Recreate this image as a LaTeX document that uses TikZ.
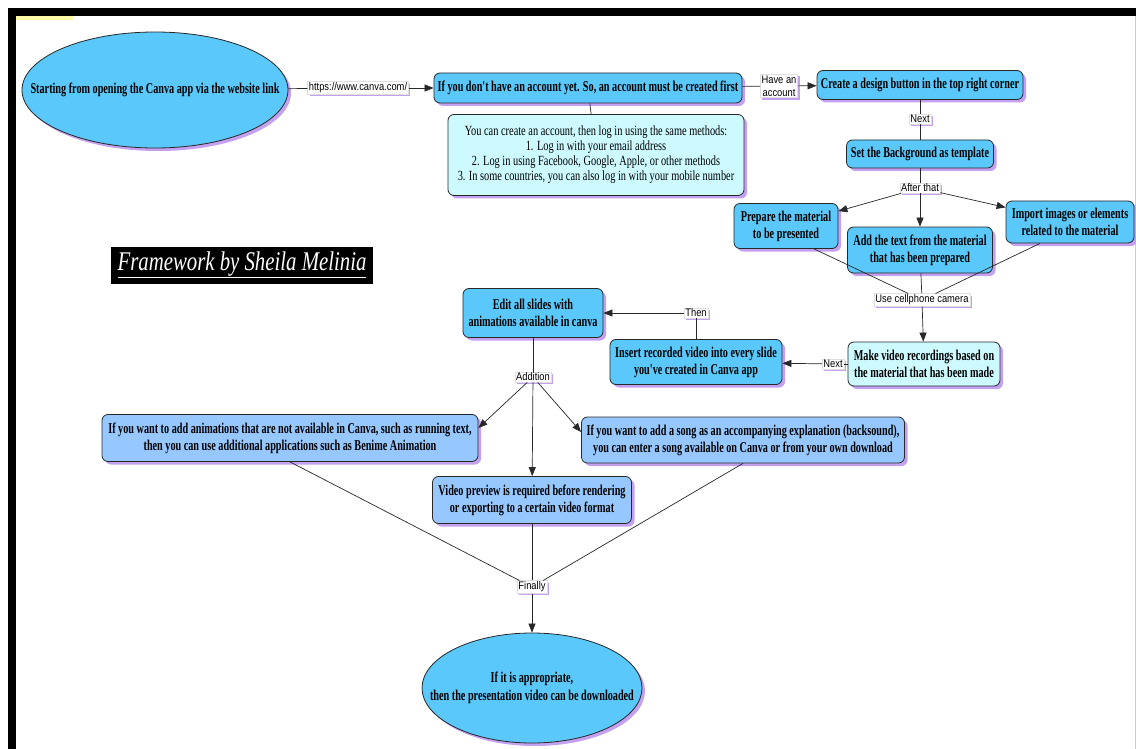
\documentclass[tikz,border=0pt]{standalone}
\usepackage{fontspec}
\setmainfont{Liberation Serif}
\newfontfamily\bxf[FakeStretch=0.68]{Liberation Serif}
\newfontfamily\infofnt[FakeStretch=0.74]{Liberation Serif}
\newfontfamily\ttlf[FakeStretch=0.77]{Liberation Serif}
\newfontfamily\lbf[FakeStretch=0.85]{Liberation Sans}
\usetikzlibrary{shapes.geometric,shadows,arrows.meta}
\definecolor{mainblue}{RGB}{90,200,250}
\definecolor{lcyan}{RGB}{205,250,255}
\definecolor{periw}{RGB}{150,200,255}
\definecolor{shadowc}{RGB}{195,160,240}
\definecolor{edgec}{RGB}{40,40,40}
\tikzset{
  sh/.style={drop shadow={shadow xshift=3pt,shadow yshift=-3pt,fill=shadowc,opacity=1}},
  box/.style={draw=edgec, line width=0.8pt, rounded corners=6pt, fill=mainblue, sh,
    align=center, inner sep=2pt, font=\bxf\bfseries\fontsize{15}{17}\selectfont},
  info/.style={box, fill=lcyan, font=\infofnt\fontsize{14}{15}\selectfont},
  lowbox/.style={box, fill=periw},
  ell/.style={ellipse, draw=edgec, line width=0.8pt, fill=mainblue, sh, inner sep=0pt},
  elltxt/.style={align=center, inner sep=0pt, font=\bxf\bfseries\fontsize{15}{18}\selectfont},
  lbl/.style={fill=white, draw=gray!25, line width=0.4pt, inner sep=1.2pt, align=center,
    font=\lbf\fontsize{11}{13}\selectfont,
    drop shadow={shadow xshift=2pt,shadow yshift=-2pt,fill=shadowc,opacity=1}},
  ln/.style={draw=edgec, line width=0.7pt},
  arr/.style={ln, -{Triangle[length=9pt,width=7pt]}},
}
\begin{document}
\begin{tikzpicture}[x=1pt,y=-1pt]
\useasboundingbox (0,0) rectangle (1136,749);
\fill[white] (0,0) rectangle (1136,749);
% frame
\fill[black] (8,8) rectangle (1136,16);
\fill[black] (8,8) rectangle (16,749);
\draw[gray!40, line width=1pt] (1135,16) -- (1135,749);
\fill[yellow!35] (16,16) rectangle (73,20);

% nodes
\node[ell, minimum width=266pt, minimum height=116pt,
  label={[elltxt]center:Starting from opening the Canva app via the website link}] (start) at (155,90) {};
\node[lbl] (url) at (358,88) {https://www.canva.com/};
\node[box, minimum width=308pt, minimum height=30pt] (A) at (588,88)
  {If you don't have an account yet. So, an account must be created first};
\node[info, minimum width=296pt, minimum height=81pt] (B) at (596,155)
  {You can create an account, then log in using the same methods:\\
   1. Log in with your email address\\
   2. Log in using Facebook, Google, Apple, or other methods\\
   3. In some countries, you can also log in with your mobile number};
\node[lbl] (have) at (779,86) {Have an\\account};
\node[box, minimum width=206pt, minimum height=29pt] (C) at (920,85)
  {Create a design button in the top right corner};
\node[lbl] (next1) at (920,119) {Next};
\node[box, minimum width=147pt, minimum height=28pt] (D) at (920,154)
  {Set the Background as template};
\node[lbl] (after) at (920,188) {After that};
\node[box, minimum width=104pt, minimum height=45pt] (E) at (786,226)
  {Prepare the material\\to be presented};
\node[box, minimum width=145pt, minimum height=46pt] (F) at (920,250)
  {Add the text from the material\\that has been prepared};
\node[box, minimum width=128pt, minimum height=42pt] (G) at (1070,222)
  {Import images or elements\\related to the material};
\node[lbl] (cam) at (922,300) {Use cellphone camera};
\node[box, fill=lcyan, minimum width=152pt, minimum height=44pt] (H) at (924,364)
  {Make video recordings based on\\the material that has been made};
\node[lbl] (next2) at (833,364) {Next};
\node[box, minimum width=172pt, minimum height=45pt] (I) at (696,362)
  {Insert recorded video into every slide\\you've created in Canva app};
\node[lbl] (then) at (696,313) {Then};
\node[box, minimum width=140pt, minimum height=49pt] (Ed) at (533,313)
  {Edit all slides with\\animations available in canva};
\node[lbl] (add) at (533,377) {Addition};
\node[lowbox, minimum width=376pt, minimum height=47pt] (J) at (290,438)
  {If you want to add animations that are not available in Canva, such as running text,\\
   then you can use additional applications such as Benime Animation};
\node[lowbox, minimum width=199pt, minimum height=47pt] (K) at (532,500)
  {Video preview is required before rendering\\or exporting to a certain video format};
\node[lowbox, minimum width=323pt, minimum height=46pt] (L) at (743,440)
  {If you want to add a song as an accompanying explanation (backsound),\\
   you can enter a song available on Canva or from your own download};
\node[lbl] (fin) at (532,587) {Finally};
\node[ell, minimum width=220pt, minimum height=110pt,
  label={[elltxt]center:{If it is appropriate,\\then the presentation video can be downloaded}}] (M) at (532,688) {};
\node[fill=black, text=white, minimum width=262pt, minimum height=37pt, inner sep=0pt,
  font=\ttlf\itshape\fontsize{27}{30}\selectfont] (title) at (242,265)
  {\underline{Framework by Sheila Melinia}};

% connectors
\draw[ln] (start) -- (url);
\draw[arr] (url) -- (A);
\draw[ln] (A) -- (B);
\draw[ln] (A) -- (have);
\draw[arr] (have) -- (C);
\draw[ln] (C) -- (next1);
\draw[ln] (next1) -- (D);
\draw[ln] (D) -- (after);
\draw[arr] (after) -- (E);
\draw[arr] (after) -- (F);
\draw[arr] (after) -- (G);
\draw[ln] ([xshift=28pt]E.south) -- (cam);
\draw[ln] (F) -- (cam);
\draw[ln] ([xshift=-30pt]G.south) -- (cam);
\draw[arr] (cam) -- (H);
\draw[ln] (H) -- (next2);
\draw[arr] (next2) -- (I);
\draw[ln] (I) -- (then);
\draw[arr] (then) -- (Ed);
\draw[ln] (Ed) -- (add);
\draw[arr] (add) -- ([yshift=10pt]J.east);
\draw[arr] (add) -- (K);
\draw[arr] (add) -- ([yshift=8pt]L.west);
\draw[ln] (J.south) -- (fin);
\draw[ln] (K) -- (fin);
\draw[ln] (L.south) -- (fin);
\draw[arr] (fin) -- (M);
\end{tikzpicture}
\end{document}
